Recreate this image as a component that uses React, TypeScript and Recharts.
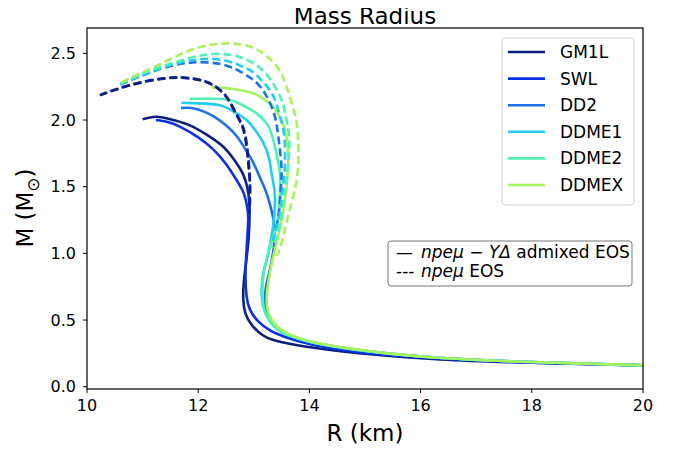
import React from "react";
import { LineChart, Line, XAxis, YAxis } from "recharts";

// [R (km), M (Msun)]
const GM1L_SOLID = [
  [11.0, 2.005], [11.25, 2.025], [11.55, 2.0], [11.85, 1.96], [12.15, 1.89],
  [12.45, 1.8], [12.65, 1.7], [12.8, 1.6], [12.88, 1.5], [12.92, 1.38],
  [12.92, 1.23], [12.9, 1.08], [12.86, 0.93], [12.82, 0.78], [12.81, 0.66],
  [12.85, 0.55], [12.97, 0.46], [13.15, 0.39], [13.4, 0.345], [13.95, 0.3],
  [14.6, 0.265], [15.2, 0.24], [16.35, 0.205], [18, 0.18], [20, 0.16],
];
const SWL_SOLID = [
  [11.24, 2.0], [11.45, 1.985], [11.67, 1.95], [12.0, 1.87], [12.27, 1.78],
  [12.5, 1.67], [12.69, 1.55], [12.82, 1.45], [12.88, 1.35], [12.9, 1.26],
  [12.88, 1.1], [12.86, 0.95], [12.85, 0.82], [12.87, 0.68], [12.93, 0.58],
  [13.08, 0.49], [13.3, 0.42], [13.55, 0.375], [14.0, 0.32], [14.6, 0.275],
  [15.2, 0.245], [16.4, 0.21], [18, 0.18], [20, 0.16],
];
const DD2_SOLID = [
  [11.69, 2.09], [11.95, 2.085], [12.27, 2.03], [12.5, 1.96], [12.69, 1.88],
  [12.85, 1.78], [12.99, 1.68], [13.12, 1.56], [13.23, 1.45], [13.32, 1.32],
  [13.37, 1.2], [13.36, 1.05], [13.3, 0.9], [13.22, 0.75], [13.2, 0.63],
  [13.27, 0.52], [13.42, 0.44], [13.65, 0.385], [14.1, 0.33], [14.7, 0.285],
  [15.3, 0.255], [16.4, 0.215], [18, 0.185], [20, 0.16],
];
const DDME1_SOLID = [
  [11.7, 2.13], [12.0, 2.125], [12.39, 2.11], [12.65, 2.06], [12.87, 2.0],
  [13.05, 1.91], [13.17, 1.83], [13.27, 1.72], [13.32, 1.6], [13.37, 1.48],
  [13.38, 1.38], [13.36, 1.25], [13.32, 1.13], [13.25, 0.98], [13.17, 0.85],
  [13.14, 0.72], [13.17, 0.6], [13.29, 0.49], [13.5, 0.41], [13.8, 0.36],
  [14.2, 0.32], [14.8, 0.28], [15.4, 0.25], [16.4, 0.215], [18, 0.185], [20, 0.16],
];
const DDME2_SOLID = [
  [11.85, 2.16], [12.2, 2.16], [12.57, 2.15], [12.85, 2.1], [13.05, 2.05],
  [13.2, 1.99], [13.29, 1.93], [13.38, 1.8], [13.44, 1.68], [13.47, 1.6],
  [13.47, 1.45], [13.44, 1.28], [13.37, 1.15], [13.29, 1.05], [13.2, 0.9],
  [13.16, 0.78], [13.16, 0.66], [13.2, 0.56], [13.35, 0.46], [13.55, 0.4],
  [13.85, 0.355], [14.25, 0.315], [14.8, 0.28], [15.4, 0.25], [16.4, 0.215],
  [18, 0.185], [20, 0.16],
];
const DDMEX_SOLID = [
  [12.24, 2.245], [12.6, 2.235], [12.99, 2.2], [13.2, 2.15], [13.35, 2.1],
  [13.48, 2.01], [13.56, 1.93], [13.61, 1.8], [13.62, 1.68], [13.6, 1.55],
  [13.56, 1.4], [13.5, 1.25], [13.41, 1.08], [13.32, 0.92], [13.26, 0.78],
  [13.23, 0.66], [13.26, 0.56], [13.38, 0.47], [13.58, 0.405], [13.9, 0.355],
  [14.3, 0.315], [14.85, 0.28], [15.4, 0.25], [16.4, 0.215], [18, 0.185], [20, 0.16],
];

const GM1L_DASHED = [
  [10.23, 2.185], [10.5, 2.225], [10.77, 2.26], [11.07, 2.29], [11.37, 2.31],
  [11.62, 2.318], [11.85, 2.312], [12.07, 2.295], [12.27, 2.26], [12.45, 2.2],
  [12.57, 2.13], [12.7, 2.03], [12.81, 1.93], [12.87, 1.8], [12.9, 1.68],
  [12.93, 1.53], [12.93, 1.38], [12.92, 1.3],
];
const SWL_DASHED = [
  [10.25, 2.19], [10.5, 2.228], [10.77, 2.262], [11.07, 2.292], [11.37, 2.312],
  [11.62, 2.32], [11.85, 2.314], [12.07, 2.298], [12.27, 2.262], [12.45, 2.205],
  [12.58, 2.13], [12.71, 2.03], [12.82, 1.93], [12.88, 1.8], [12.91, 1.68],
  [12.93, 1.53], [12.92, 1.38], [12.9, 1.27],
];
const DD2_DASHED = [
  [10.6, 2.265], [10.85, 2.31], [11.1, 2.35], [11.37, 2.39], [11.67, 2.42],
  [11.9, 2.432], [12.15, 2.432], [12.4, 2.42], [12.63, 2.39], [12.85, 2.34],
  [13.05, 2.28], [13.2, 2.2], [13.32, 2.1], [13.4, 1.99], [13.44, 1.88],
  [13.48, 1.74], [13.5, 1.6], [13.48, 1.45], [13.45, 1.3], [13.4, 1.18],
];
const DDME1_DASHED = [
  [10.6, 2.27], [10.85, 2.315], [11.1, 2.355], [11.37, 2.395], [11.67, 2.43],
  [11.95, 2.452], [12.21, 2.458], [12.5, 2.445], [12.75, 2.41], [12.98, 2.36],
  [13.18, 2.28], [13.35, 2.18], [13.45, 2.06], [13.53, 1.93], [13.56, 1.8],
  [13.56, 1.66], [13.53, 1.52], [13.47, 1.3], [13.4, 1.18], [13.34, 1.1],
];
const DDME2_DASHED = [
  [10.6, 2.275], [10.85, 2.32], [11.1, 2.365], [11.37, 2.405], [11.67, 2.445],
  [11.97, 2.478], [12.27, 2.495], [12.55, 2.49], [12.8, 2.465], [13.05, 2.41],
  [13.27, 2.32], [13.47, 2.18], [13.56, 2.06], [13.62, 1.93], [13.64, 1.8],
  [13.62, 1.68], [13.58, 1.52], [13.53, 1.38], [13.47, 1.22], [13.4, 1.12],
  [13.33, 1.04],
];
const DDMEX_DASHED = [
  [10.62, 2.28], [10.85, 2.33], [11.07, 2.37], [11.37, 2.43], [11.67, 2.49],
  [11.97, 2.54], [12.25, 2.565], [12.54, 2.575], [12.85, 2.56], [13.05, 2.53],
  [13.23, 2.48], [13.45, 2.38], [13.59, 2.25], [13.7, 2.1], [13.77, 1.98],
  [13.8, 1.84], [13.8, 1.68], [13.77, 1.55], [13.71, 1.43], [13.59, 1.23],
  [13.5, 1.08], [13.42, 0.98],
];

const EOS_NAMES = ["GM1L", "SWL", "DD2", "DDME1", "DDME2", "DDMEX"];
const EOS_COLORS = ["#0d1f7c", "#0b30e6", "#1b72e8", "#22cdf0", "#4ff2b2", "#a8f25e"];
const SOLID = [GM1L_SOLID, SWL_SOLID, DD2_SOLID, DDME1_SOLID, DDME2_SOLID, DDMEX_SOLID];
const DASHED = [GM1L_DASHED, SWL_DASHED, DD2_DASHED, DDME1_DASHED, DDME2_DASHED, DDMEX_DASHED];
// SWL dashed is drawn first so the GM1L dashes sit on top of it
const DASH_ORDER = [1, 0, 2, 3, 4, 5];

const X_TICKS = [10, 12, 14, 16, 18, 20];
const Y_TICKS = [0, 0.5, 1, 1.5, 2, 2.5];

const toPoints = (arr: number[][]) => arr.map(([r, m]) => ({ r, m }));

const FONT = "DejaVu Sans, sans-serif";
const tickStyle = { fontSize: 16, fill: "#000", fontFamily: FONT };
const LW = 2.6;

export default function App() {
  return (
    <div style={{ position: "relative", width: 679, height: 453, margin: "-8px 0 0 -8px", fontFamily: FONT }}>
      <div
        style={{
          position: "absolute",
          left: 0,
          top: 3,
          width: 730,
          textAlign: "center",
          fontSize: 23,
          lineHeight: "26px",
          color: "#000",
          zIndex: 5,
        }}
      >
        Mass Radius
      </div>
      <LineChart width={679} height={453} margin={{ top: 28, right: 36, bottom: 0, left: 0 }}>
        <XAxis
          type="number"
          dataKey="r"
          domain={[10, 20]}
          ticks={X_TICKS}
          allowDataOverflow
          height={64}
          tickSize={4}
          tickMargin={7}
          axisLine={false}
          tickLine={{ stroke: "#000" }}
          tick={tickStyle}
        />
        <YAxis
          type="number"
          domain={[-0.017, 2.69]}
          ticks={Y_TICKS}
          allowDataOverflow
          width={87}
          tickSize={4}
          tickMargin={7}
          axisLine={false}
          tickLine={{ stroke: "#000" }}
          tick={tickStyle}
          tickFormatter={(v: number) => v.toFixed(1)}
        />
        {SOLID.map((curve, i) => (
          <Line
            key={"s" + EOS_NAMES[i]}
            data={toPoints(curve)}
            dataKey="m"
            type="natural"
            stroke={EOS_COLORS[i]}
            strokeWidth={LW}
            dot={false}
            isAnimationActive={false}
          />
        ))}
        {DASH_ORDER.map((i) => (
          <Line
            key={"d" + EOS_NAMES[i]}
            data={toPoints(DASHED[i])}
            dataKey="m"
            type="natural"
            stroke={EOS_COLORS[i]}
            strokeWidth={LW}
            strokeDasharray="8 4"
            strokeDashoffset={i === 1 ? 2 : 0}
            dot={false}
            isAnimationActive={false}
          />
        ))}
      </LineChart>

      <svg
        width={679}
        height={453}
        style={{ position: "absolute", left: 0, top: 0, pointerEvents: "none", zIndex: 4 }}
        fontFamily={FONT}
      >
        <rect x={87} y={28} width={556} height={361} fill="none" stroke="#000" strokeWidth={1.2} />
        <text x={365} y={441} fontSize={23} textAnchor="middle">R (km)</text>
        <text transform="translate(33,208) rotate(-90)" fontSize={23} textAnchor="middle">
          M (M<tspan fontSize={17} dy={6}>⊙</tspan><tspan dy={-6}>)</tspan>
        </text>

        <rect x={502} y={38} width={132} height={167} rx={3} fill="#fff" fillOpacity={0.8} stroke="#d0d0d0" />
        {EOS_NAMES.map((name, i) => (
          <g key={name}>
            <line x1={508} x2={545} y1={52 + i * 26.6} y2={52 + i * 26.6} stroke={EOS_COLORS[i]} strokeWidth={LW} />
            <text x={560} y={52 + i * 26.6 + 6} fontSize={17}>{name}</text>
          </g>
        ))}

        <rect x={388} y={241} width={244} height={45} rx={3} fill="#fff" stroke="#777" />
        <text x={396} y={258} fontSize={17}>—</text>
        <text x={421} y={258} fontSize={17}>
          <tspan fontStyle="italic">npeμ − YΔ</tspan> admixed EOS
        </text>
        <text x={396} y={277} fontSize={17}>---</text>
        <text x={421} y={277} fontSize={17}>
          <tspan fontStyle="italic">npeμ</tspan> EOS
        </text>
      </svg>
    </div>
  );
}
